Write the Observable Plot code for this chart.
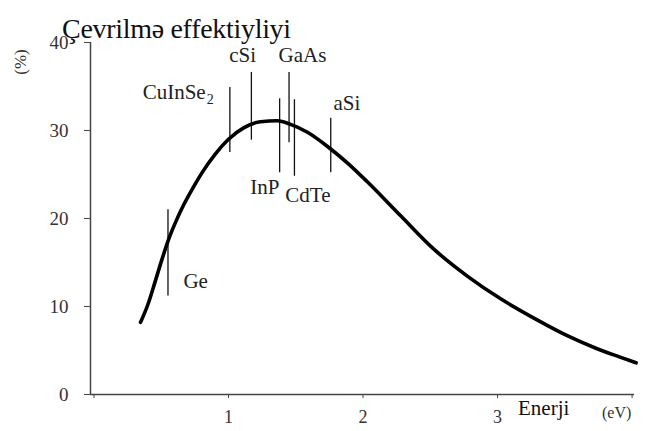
<!DOCTYPE html>
<html>
<head>
<meta charset="utf-8">
<script src="https://cdn.jsdelivr.net/npm/d3@7"></script>
<script src="https://cdn.jsdelivr.net/npm/@observablehq/plot@0.6"></script>
<style>
  html, body { margin: 0; padding: 0; background: #fff; }
  #chart { width: 646px; height: 431px; }
  #chart svg, #chart svg text { font-family: "Liberation Serif", "Times New Roman", serif !important; }
</style>
</head>
<body>
<div id="chart"></div>
<script>
// Efficiency curve (energy gap in eV, conversion efficiency in %)
const energy     = [0.346, 0.40, 0.45, 0.50, 0.554, 0.61, 0.665, 0.74, 0.807, 0.9, 1.0, 1.112, 1.238, 1.364, 1.461, 1.587, 1.743, 1.885, 2.03, 2.28, 2.52, 2.78, 3.02, 3.28, 3.53, 3.74, 3.9, 4.03];
const efficiency = [8.2, 10.2, 12.6, 15.1, 17.6, 19.7, 21.5, 23.6, 25.3, 27.3, 29.0, 30.3, 31.0, 31.1, 30.7, 29.8, 28.1, 26.3, 24.2, 20.3, 16.6, 13.4, 10.9, 8.6, 6.6, 5.2, 4.3, 3.6];

// Material band gaps with marker extents (%)
const materials = ["Ge", "CuInSe", "cSi", "InP", "GaAs", "CdTe", "aSi"];
const gaps      = [0.55, 1.01, 1.17, 1.38, 1.45, 1.49, 1.76];
const markLo    = [11.2, 27.5, 28.9, 25.2, 28.6, 24.8, 25.2];
const markHi    = [21.0, 34.9, 36.6, 33.6, 36.6, 33.5, 31.4];
// label positions (eV, %)
const labelX    = [0.665, 0.83, 1.105, 1.27, 1.55, 1.59, 1.88];
const labelY    = [12.9, 34.3, 38.6, 23.5, 38.6, 22.6, 33.1];

const yTicks = [0, 10, 20, 30, 40];
const xTicks = [0, 1, 2, 3, 4];
const xTickLabels = ["", "1", "2", "3", ""];

const curve = energy.map((e, i) => ({e, v: efficiency[i]}));
const mats = materials.map((m, i) => ({name: m, gap: gaps[i], lo: markLo[i], hi: markHi[i], lx: labelX[i], ly: labelY[i]}));
const startLabels = mats.filter(d => d.name === "Ge");
const endLabels = mats.filter(d => d.name === "CuInSe");
const midLabels = mats.filter(d => d.name !== "Ge" && d.name !== "CuInSe");

const font = "Liberation Serif, Times New Roman, serif";

const plot = Plot.plot({
  width: 646,
  height: 431,
  marginLeft: 90,
  marginRight: 12,
  marginTop: 42,
  marginBottom: 37,
  style: {fontFamily: font, background: "#fff", color: "#222"},
  x: {domain: [-0.026, 4.018], axis: null},
  y: {domain: [0, 40], axis: null},
  marks: [
    Plot.ruleY([0], {stroke: "#444", strokeWidth: 1.5}),
    Plot.ruleX([-0.026], {y1: 0, y2: 40, stroke: "#444", strokeWidth: 1.5}),
    Plot.axisY({ticks: yTicks, tickSize: 6, tickPadding: 16, fontSize: 19, stroke: "#444", fill: "#333", label: null}),
    Plot.axisX({ticks: xTicks, tickSize: 4, tickPadding: 12, fontSize: 18, stroke: "#444", fill: "#333", label: null,
      tickFormat: d => xTickLabels[xTicks.indexOf(d)]}),
    Plot.ruleX(mats, {x: "gap", y1: "lo", y2: "hi", stroke: "#111", strokeWidth: 1.3}),
    Plot.line(curve, {x: "e", y: "v", curve: "monotone-x", stroke: "#000", strokeWidth: 3.6}),
    Plot.text(midLabels, {x: "lx", y: "ly", text: "name", fontSize: 21, fill: "#222", textAnchor: "middle"}),
    Plot.text(startLabels, {x: "lx", y: "ly", text: "name", fontSize: 21, fill: "#222", textAnchor: "start"}),
    Plot.text(endLabels, {x: "lx", y: "ly", text: "name", fontSize: 21, fill: "#222", textAnchor: "end"}),
    Plot.text(endLabels, {x: "lx", y: "ly", text: () => "2", fontSize: 14, fill: "#222", textAnchor: "start", dx: 1, dy: 7})
  ]
});

const svg = d3.select(plot);
function addText(x, y, size, fill, txt) {
  return svg.append("text").attr("x", x).attr("y", y).attr("font-size", size).attr("fill", fill)
    .attr("font-family", font).attr("text-anchor", "start").text(txt);
}
addText(62, 38, 28, "#111", "Çevrilmə effektiyliyi").attr("letter-spacing", "-0.3");
svg.append("text").attr("transform", "translate(26,62) rotate(-90)").attr("text-anchor", "middle")
  .attr("font-size", 17).attr("fill", "#333").attr("font-family", font).text("(%)");
addText(518, 415, 21, "#111", "Enerji");
addText(602, 418, 16, "#333", "(eV)");

document.getElementById("chart").appendChild(plot);
</script>
</body>
</html>
